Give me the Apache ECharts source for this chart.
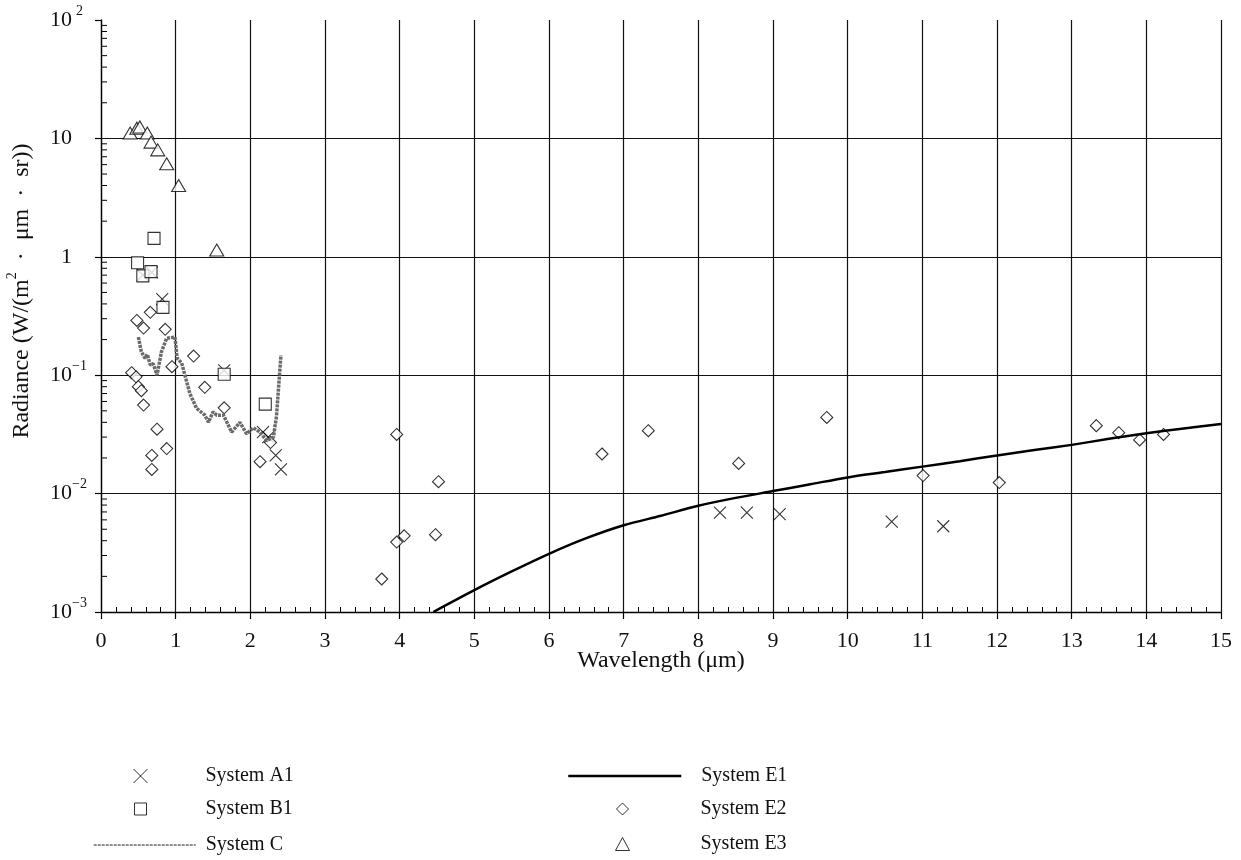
<!DOCTYPE html>
<html>
<head>
<meta charset="utf-8">
<script src="https://cdn.jsdelivr.net/npm/echarts@6/dist/echarts.min.js"></script>
<style>
  html, body { margin: 0; padding: 0; background: #fff; }
  #chart { width: 1241px; height: 860px; }
</style>
</head>
<body>
<div id="chart"></div>
<script>
// data: [wavelength (um), radiance]
var systemA1 = [[0.56, 0.70], [0.68, 0.74], [0.82, 0.44], [1.65, 0.11], [2.17, 0.033], [2.24, 0.030],
    [2.34, 0.021], [2.41, 0.016], [8.29, 0.0069], [8.65, 0.0069], [9.09, 0.0067], [10.59, 0.0058], [11.28, 0.0053]];
var systemB1 = [[0.49, 0.89], [0.56, 0.69], [0.67, 0.75], [0.71, 1.43], [0.83, 0.374], [1.65, 0.102], [2.2, 0.057]];
var systemC = [[0.5, 0.21], [0.54, 0.158], [0.59, 0.139], [0.62, 0.15], [0.66, 0.122], [0.7, 0.125], [0.75, 0.1],
    [0.81, 0.158], [0.88, 0.205], [0.99, 0.21], [1.02, 0.139], [1.08, 0.127], [1.19, 0.07], [1.28, 0.0525],
    [1.39, 0.046], [1.44, 0.04], [1.5, 0.049], [1.55, 0.046], [1.64, 0.046], [1.75, 0.033], [1.86, 0.04],
    [1.95, 0.032], [2.04, 0.036], [2.13, 0.033], [2.22, 0.028], [2.31, 0.03], [2.35, 0.045], [2.41, 0.148]];
var systemE1 = [[4.45, 0.001], [5.0, 0.00153], [5.5, 0.0022], [6.0, 0.0031], [6.5, 0.0042], [7.0, 0.0054],
    [7.5, 0.0065], [8.0, 0.0079], [8.5, 0.0092], [9.0, 0.0105], [9.5, 0.012], [10.0, 0.0137], [10.5, 0.0152],
    [11.0, 0.0169], [11.5, 0.0188], [12.0, 0.021], [12.5, 0.0233], [13.0, 0.0258], [13.5, 0.029],
    [14.0, 0.0323], [14.5, 0.0355], [15.0, 0.0387]];
var systemE2 = [[0.48, 0.29], [0.66, 0.34], [0.57, 0.25], [0.86, 0.244], [1.24, 0.145], [0.95, 0.118],
    [0.41, 0.105], [0.47, 0.097], [1.39, 0.079], [0.5, 0.08], [0.54, 0.074], [1.65, 0.053], [0.57, 0.056],
    [0.75, 0.035], [0.88, 0.024], [0.68, 0.021], [0.68, 0.016], [2.13, 0.0186], [2.27, 0.027],
    [3.96, 0.0316], [4.52, 0.0126], [3.96, 0.0039], [4.06, 0.0044], [4.48, 0.0045], [3.76, 0.0019],
    [6.71, 0.0216], [7.33, 0.034], [8.54, 0.018], [9.72, 0.044], [11.01, 0.0142], [12.03, 0.0124],
    [13.33, 0.0375], [13.63, 0.0327], [13.91, 0.0284], [14.23, 0.0316]];
var systemE3 = [[0.39, 11.1], [0.48, 12.2], [0.52, 12.5], [0.62, 11.1], [0.67, 9.3], [0.76, 8.0],
    [0.88, 6.1], [1.04, 4.0], [1.55, 1.14]];

// log minor tick positions on the radiance axis
var yMinorTicks = [];
[0.001, 0.01, 0.1, 1, 10].forEach(function (d) {
    for (var k = 2; k <= 9; k++) yMinorTicks.push([0, +(d * k).toPrecision(3)]);
});

var serif = 'Liberation Serif';
var crossPath = 'path://M0,0L10,10M10,0L0,10';
var hollow = { color: '#fff', borderColor: '#000', borderWidth: 1.1 };
var cGray = '#6a6a6a';

var chart = echarts.init(document.getElementById('chart'));

// one legend per entry so each icon can sit where the original has it
function legendItem(name, left, top, w, h, textLeft, extra) {
    var o = {
        data: [name], left: left, top: top, padding: 0,
        itemWidth: w, itemHeight: h, selectedMode: false,
        itemStyle: { borderWidth: 1 },
        textStyle: { fontFamily: serif, fontSize: 20, color: '#111', padding: [0, 0, 0, textLeft - (left + w + 5)] }
    };
    return Object.assign(o, extra || {});
}

var option = {
    animation: false,
    backgroundColor: '#fff',
    grid: { left: 101, right: 20, top: 20, bottom: 248, outerBoundsMode: 'none' },
    legend: [
        legendItem('System A1', 133, 766, 14, 14, 205),
        legendItem('System B1', 134, 799, 12, 12, 205),
        legendItem('System C', 93, 835, 102, 10, 205, {
            lineStyle: { width: 1.5 }, itemStyle: { opacity: 0, color: 'transparent', borderWidth: 0 }
        }),
        legendItem('System E1', 567, 766, 113, 10, 700, {
            lineStyle: { width: 2.5 }, itemStyle: { opacity: 0, color: 'transparent', borderWidth: 0 }
        }),
        legendItem('System E2', 616, 799, 12, 12, 700),
        legendItem('System E3', 615, 834, 14, 13, 700)
    ],
    xAxis: [{
        type: 'value', min: 0, max: 15, interval: 1,
        name: 'Wavelength (μm)', nameLocation: 'middle', nameGap: 37, nameMoveOverlap: false,
        nameTextStyle: { fontFamily: serif, fontSize: 24, color: '#111' },
        axisLine: { lineStyle: { color: '#000', width: 1.3 } },
        axisTick: { show: false, inside: true },
        minorTick: { show: true, splitNumber: 5, length: 5, lineStyle: { color: '#000', width: 1 } },
        axisLabel: { fontFamily: serif, fontSize: 22, color: '#111', margin: 18 },
        splitLine: { show: true, lineStyle: { color: '#111', width: 1.2 } }
    }, {
        type: 'value', min: 0, max: 15, interval: 1, position: 'bottom',
        axisLine: { show: false },
        axisTick: { show: true, length: 7, lineStyle: { color: '#000', width: 1.2 } },
        axisLabel: { show: false },
        splitLine: { show: false }
    }],
    yAxis: {
        type: 'log', logBase: 10, min: 0.001, max: 100,
        name: 'Radiance (W/(m{s|2}  ·  μm  ·  sr))', nameLocation: 'middle', nameGap: 62, nameMoveOverlap: false,
        nameTextStyle: {
            fontFamily: serif, fontSize: 24, color: '#111', lineHeight: 34, padding: [0, 0, 0, 50],
            rich: { s: { fontFamily: serif, fontSize: 14, color: '#111', lineHeight: 14, verticalAlign: 'top' } }
        },
        axisLine: { show: true, lineStyle: { color: '#000', width: 1.3 } },
        axisTick: { show: true, length: 6, lineStyle: { color: '#000', width: 1.2 } },
        axisLabel: {
            margin: 14,
            formatter: function (v) {
                var e = Math.round(Math.log10(v));
                if (e === 0) return '{b|1}{p| }';
                if (e === 1) return '{b|10}{p| }';
                return '{b|10}{s|' + (e < 0 ? '−' + (-e) : e) + '}';
            },
            rich: {
                b: { fontFamily: serif, fontSize: 22, color: '#111', lineHeight: 32 },
                s: { fontFamily: serif, fontSize: 14, color: '#111', lineHeight: 12, width: 15, align: 'left', verticalAlign: 'top' },
                p: { fontFamily: serif, fontSize: 14, lineHeight: 12, width: 15 }
            }
        },
        splitLine: { show: true, showMaxLine: false, lineStyle: { color: '#111', width: 1.2 } }
    },
    series: [{
        type: 'custom', silent: true, z: 5,
        data: yMinorTicks,
        encode: { x: 0, y: 1 },
        renderItem: function (params, api) {
            var p = api.coord([api.value(0), api.value(1)]);
            return { type: 'line', shape: { x1: p[0], y1: p[1], x2: p[0] + 6, y2: p[1] }, style: { stroke: '#000', lineWidth: 1 } };
        }
    }, {
        name: 'System C', type: 'line', data: systemC, symbol: 'none',
        lineStyle: { color: cGray, width: 3.5, type: [3, 1] },
        itemStyle: { color: cGray }
    }, {
        name: 'System E1', type: 'line', data: systemE1, symbol: 'none', smooth: 0.3,
        lineStyle: { color: '#000', width: 2.5 },
        itemStyle: { color: '#000' }
    }, {
        name: 'System A1', type: 'scatter', data: systemA1, symbol: crossPath, symbolSize: 12,
        itemStyle: hollow
    }, {
        name: 'System B1', type: 'scatter', data: systemB1, symbol: 'rect', symbolSize: 12,
        itemStyle: hollow
    }, {
        name: 'System E2', type: 'scatter', data: systemE2, symbol: 'diamond', symbolSize: 12,
        itemStyle: hollow
    }, {
        name: 'System E3', type: 'scatter', data: systemE3, symbol: 'triangle', symbolSize: [14, 12],
        itemStyle: hollow
    }]
};

chart.setOption(option);
</script>
</body>
</html>
